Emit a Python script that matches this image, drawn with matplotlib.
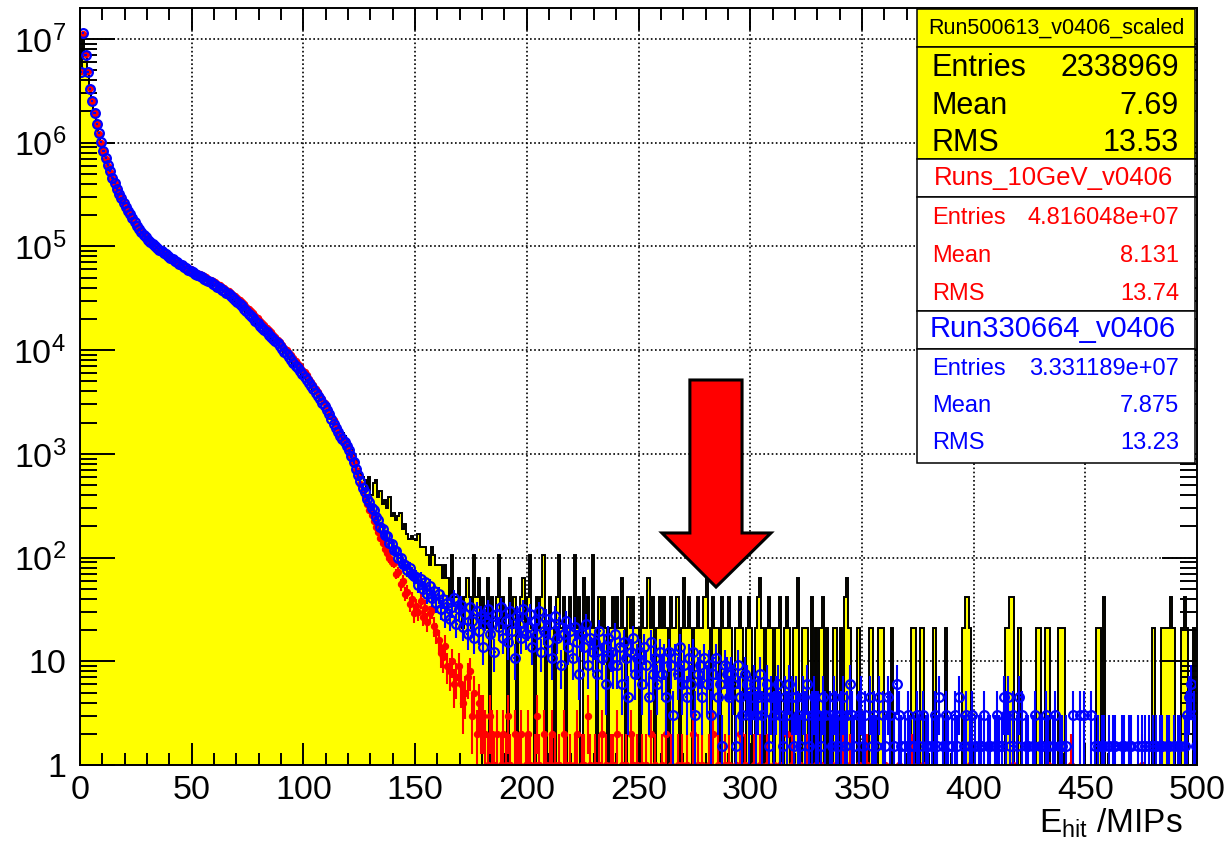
import numpy as np
import matplotlib
matplotlib.use("Agg")
import matplotlib.pyplot as plt
from matplotlib.patches import Rectangle, Polygon
from matplotlib.ticker import MultipleLocator, LogLocator, NullFormatter

plt.rcParams['font.family'] = ['Liberation Sans', 'DejaVu Sans']
plt.rcParams['mathtext.fontset'] = 'custom'
plt.rcParams['mathtext.rm'] = 'Liberation Sans'
plt.rcParams['mathtext.it'] = 'Liberation Sans:italic'
plt.rcParams['mathtext.bf'] = 'Liberation Sans:bold'

# ---------------- data ----------------
# 500 bins of 1 MIP from 0 to 500. Bins 0-149 given as values, 150-499 as counts x unit weight
BIN_EDGES = np.arange(0, 501, 1)

yellow_smooth = [
    4.6e6, 1.1e7, 6.8e6, 4.6e6, 3.2e6, 2.4e6, 1.88e6, 1.46e6, 1.19e6, 9.7e5,
    8.1e5, 6.8e5, 5.9e5, 5.1e5, 4.45e5, 3.95e5, 3.5e5, 3.1e5, 2.8e5, 2.55e5,
    2.33e5, 2.14e5, 1.97e5, 1.8e5, 1.65e5, 1.52e5, 1.41e5, 1.32e5, 1.24e5, 1.17e5,
    1.12e5, 1.06e5, 1.01e5, 9.7e4, 9.3e4, 9.0e4, 8.7e4, 8.4e4, 8.1e4, 7.8e4,
    7.55e4, 7.3e4, 7.05e4, 6.8e4, 6.6e4, 6.4e4, 6.2e4, 6.0e4, 5.8e4, 5.65e4,
    5.5e4, 5.35e4, 5.2e4, 5.05e4, 4.92e4, 4.8e4, 4.66e4, 4.52e4, 4.4e4, 4.27e4,
    4.14e4, 4.02e4, 3.89e4, 3.76e4, 3.63e4, 3.5e4, 3.37e4, 3.24e4, 3.11e4, 2.98e4,
    2.85e4, 2.72e4, 2.6e4, 2.47e4, 2.35e4, 2.23e4, 2.12e4, 2.01e4, 1.9e4, 1.8e4,
    1.71e4, 1.62e4, 1.54e4, 1.46e4, 1.39e4, 1.32e4, 1.26e4, 1.2e4, 1.13e4, 1.07e4,
    1.0e4, 9.4e3, 8.9e3, 8.4e3, 7.9e3, 7.5e3, 7.0e3, 6.6e3, 6.2e3, 5.8e3,
    5.5e3, 5.1e3, 4.8e3, 4.5e3, 4.2e3, 3.95e3, 3.7e3, 3.4e3, 3.2e3, 3.0e3,
    2.8e3, 2.6e3, 2.4e3, 2.2e3, 2.05e3, 1.9e3, 1.75e3, 1.6e3, 1.5e3, 1.35e3,
    1250, 1100, 1000, 880, 710, 650, 600, 560, 460, 600,
    400, 520, 560, 380, 440, 330, 360, 300, 380, 250,
    270, 230, 250, 270, 190, 210, 170, 150, 160, 150,
]
YELLOW_UNIT = 21.0
yellow_tail_counts = [
    7, 8, 6, 6, 6, 5, 4, 6, 5, 4,
    4, 4, 3, 4, 3, 2, 5, 2, 2, 3,
    2, 1, 2, 3, 2, 1, 5, 2, 3, 1,
    2, 1, 3, 0, 2, 1, 2, 5, 1, 2,
    1, 0, 3, 1, 2, 0, 1, 2, 3, 1,
    2, 5, 1, 0, 2, 1, 2, 5, 0, 1,
    2, 1, 0, 2, 5, 1, 2, 0, 1, 2,
    1, 5, 1, 2, 0, 3, 1, 2, 1, 5,
    1, 0, 2, 1, 2, 1, 0, 1, 2, 1,
    2, 1, 3, 1, 0, 2, 1, 2, 1, 1,
    0, 2, 1, 1, 3, 1, 2, 0, 1, 2,
    1, 2, 1, 0, 2, 1, 1, 2, 0, 1,
    3, 1, 2, 1, 0, 1, 2, 1, 1, 2,
    3, 1, 0, 2, 1, 1, 0, 2, 1, 1,
    2, 1, 0, 1, 1, 2, 1, 0, 1, 2,
    1, 0, 1, 2, 3, 1, 0, 1, 2, 1,
    0, 1, 1, 2, 0, 1, 2, 1, 0, 1,
    1, 3, 0, 1, 1, 1, 0, 2, 0, 1,
    0, 1, 2, 0, 1, 0, 0, 1, 1, 0,
    1, 0, 2, 3, 1, 0, 0, 0, 1, 0,
    0, 0, 0, 1, 1, 0, 0, 1, 1, 1,
    0, 0, 0, 1, 0, 0, 0, 0, 0, 0,
    0, 0, 1, 1, 0, 0, 1, 1, 0, 0,
    0, 0, 1, 0, 0, 0, 0, 1, 0, 0,
    0, 0, 0, 0, 0, 1, 2, 2, 1, 0,
    0, 0, 0, 0, 0, 0, 0, 0, 0, 0,
    0, 0, 0, 0, 1, 1, 2, 2, 0, 0,
    1, 0, 0, 0, 0, 0, 0, 0, 1, 1,
    0, 0, 1, 1, 0, 0, 0, 0, 1, 1,
    1, 0, 0, 0, 0, 0, 0, 0, 0, 0,
    0, 0, 0, 0, 0, 1, 1, 0, 2, 0,
    0, 0, 0, 0, 0, 0, 0, 0, 0, 0,
    0, 0, 0, 0, 0, 0, 0, 0, 0, 0,
    1, 0, 0, 0, 1, 1, 1, 1, 2, 1,
    0, 0, 0, 1, 2, 1, 0, 0, 1, 0,
]

red_smooth = [
    4.9e6, 1.12e7, 7.1e6, 4.9e6, 3.35e6, 2.5e6, 1.93e6, 1.5e6, 1.22e6, 1.0e6,
    8.3e5, 7.0e5, 6.0e5, 5.25e5, 4.6e5, 4.05e5, 3.6e5, 3.2e5, 2.9e5, 2.63e5,
    2.4e5, 2.2e5, 2.03e5, 1.86e5, 1.7e5, 1.57e5, 1.46e5, 1.37e5, 1.29e5, 1.22e5,
    1.16e5, 1.11e5, 1.06e5, 1.01e5, 9.7e4, 9.4e4, 9.1e4, 8.8e4, 8.5e4, 8.2e4,
    7.95e4, 7.65e4, 7.4e4, 7.15e4, 6.95e4, 6.75e4, 6.55e4, 6.35e4, 6.15e4, 6.0e4,
    5.85e4, 5.7e4, 5.55e4, 5.42e4, 5.28e4, 5.15e4, 5.02e4, 4.88e4, 4.75e4, 4.62e4,
    4.5e4, 4.36e4, 4.23e4, 4.1e4, 3.96e4, 3.83e4, 3.7e4, 3.56e4, 3.43e4, 3.3e4,
    3.16e4, 3.03e4, 2.9e4, 2.76e4, 2.63e4, 2.5e4, 2.38e4, 2.26e4, 2.14e4, 2.03e4,
    1.93e4, 1.83e4, 1.73e4, 1.64e4, 1.56e4, 1.48e4, 1.4e4, 1.33e4, 1.26e4, 1.19e4,
    1.12e4, 1.06e4, 1.0e4, 9.4e3, 8.9e3, 8.4e3, 7.9e3, 7.4e3, 7.0e3, 6.5e3,
    6.1e3, 5.7e3, 5.3e3, 4.95e3, 4.6e3, 4.25e3, 3.95e3, 3.65e3, 3.35e3, 3.08e3,
    2.82e3, 2.57e3, 2.33e3, 2.1e3, 1.9e3, 1.72e3, 1.56e3, 1.42e3, 1.29e3, 1.17e3,
    1050, 930, 810, 700, 600, 515, 440, 380, 330, 290,
    255, 225, 198, 175, 155, 138, 122, 110, 98, 90,
    88, 70, 72, 55, 60, 45, 47, 36, 40, 29,
]
RED_UNIT = 1.0
red_tail_counts = [
    34, 30, 38, 27, 33, 24, 29, 31, 22, 19,
    16, 12, 11, 14, 9, 8, 10, 6, 7, 9,
    6, 4, 5, 7, 8, 3, 5, 2, 4, 3,
    3, 2, 1, 3, 2, 1, 2, 0, 1, 2,
    1, 3, 1, 0, 2, 1, 1, 2, 0, 1,
    2, 1, 0, 1, 3, 1, 0, 2, 1, 0,
    1, 2, 1, 0, 1, 0, 2, 1, 0, 1,
    0, 1, 2, 0, 1, 1, 0, 3, 1, 0,
    1, 0, 1, 2, 0, 1, 0, 1, 1, 0,
    2, 0, 1, 0, 1, 0, 2, 1, 0, 1,
    0, 1, 0, 1, 0, 2, 0, 1, 0, 0,
    1, 0, 2, 0, 1, 0, 0, 1, 0, 1,
    0, 1, 0, 0, 2, 0, 1, 0, 1, 0,
    0, 1, 0, 2, 0, 1, 0, 0, 1, 0,
    1, 0, 0, 1, 0, 2, 0, 1, 0, 0,
    0, 1, 0, 0, 1, 0, 0, 1, 0, 0,
    1, 0, 0, 1, 0, 0, 2, 0, 1, 0,
    0, 0, 1, 0, 0, 1, 0, 0, 0, 1,
    0, 1, 0, 0, 0, 0, 1, 0, 0, 0,
    0, 2, 0, 0, 1, 0, 0, 0, 1, 0,
    0, 0, 1, 0, 0, 1, 0, 0, 0, 0,
    1, 0, 0, 0, 0, 0, 1, 0, 0, 0,
    0, 0, 1, 0, 0, 0, 0, 1, 0, 0,
    0, 0, 0, 0, 0, 0, 0, 0, 0, 0,
    0, 0, 0, 0, 0, 0, 0, 0, 1, 0,
    0, 0, 0, 0, 0, 0, 0, 0, 0, 0,
    0, 0, 0, 0, 0, 0, 0, 1, 0, 0,
    0, 0, 0, 0, 0, 0, 0, 0, 0, 0,
    0, 0, 0, 1, 0, 0, 0, 0, 0, 0,
    0, 0, 0, 1, 0, 0, 0, 0, 0, 0,
    0, 0, 0, 0, 0, 0, 0, 0, 0, 0,
    0, 0, 0, 0, 0, 0, 0, 0, 0, 0,
    0, 0, 0, 0, 0, 1, 0, 0, 0, 0,
    0, 0, 0, 0, 0, 0, 0, 0, 0, 0,
    0, 0, 0, 0, 0, 0, 0, 0, 0, 0,
]

blue_smooth = [
    4.8e6, 1.15e7, 7.0e6, 4.8e6, 3.3e6, 2.5e6, 1.95e6, 1.52e6, 1.24e6, 1.01e6,
    8.4e5, 7.1e5, 6.1e5, 5.3e5, 4.6e5, 4.1e5, 3.6e5, 3.2e5, 2.9e5, 2.65e5,
    2.42e5, 2.22e5, 2.05e5, 1.87e5, 1.71e5, 1.57e5, 1.46e5, 1.37e5, 1.29e5, 1.22e5,
    1.16e5, 1.10e5, 1.05e5, 1.0e5, 9.6e4, 9.3e4, 9.0e4, 8.7e4, 8.4e4, 8.1e4,
    7.8e4, 7.5e4, 7.25e4, 7.0e4, 6.8e4, 6.6e4, 6.35e4, 6.15e4, 5.95e4, 5.8e4,
    5.62e4, 5.48e4, 5.32e4, 5.18e4, 5.02e4, 4.9e4, 4.78e4, 4.62e4, 4.5e4, 4.38e4,
    4.24e4, 4.1e4, 3.98e4, 3.84e4, 3.7e4, 3.58e4, 3.44e4, 3.3e4, 3.18e4, 3.04e4,
    2.9e4, 2.78e4, 2.64e4, 2.5e4, 2.38e4, 2.25e4, 2.14e4, 2.02e4, 1.91e4, 1.81e4,
    1.72e4, 1.63e4, 1.55e4, 1.48e4, 1.41e4, 1.35e4, 1.29e4, 1.23e4, 1.16e4, 1.09e4,
    1.02e4, 9.6e3, 9.1e3, 8.6e3, 8.1e3, 7.6e3, 7.1e3, 6.7e3, 6.3e3, 5.9e3,
    5.5e3, 5.15e3, 4.8e3, 4.5e3, 4.2e3, 3.9e3, 3.6e3, 3.35e3, 3.1e3, 2.88e3,
    2.65e3, 2.42e3, 2.18e3, 1.95e3, 1.78e3, 1.62e3, 1.5e3, 1.4e3, 1.3e3, 1.2e3,
    1080, 950, 830, 720, 620, 545, 470, 430, 365, 345,
    300, 285, 248, 230, 198, 190, 165, 160, 138, 135,
    118, 115, 100, 99, 86, 85, 76, 80, 70, 66,
]
BLUE_UNIT = 1.52
blue_tail_counts = [
    43, 36, 41, 33, 38, 29, 35, 27, 31, 24,
    29, 21, 26, 18, 24, 17, 22, 27, 15, 21,
    23, 14, 19, 12, 22, 16, 11, 20, 13, 18,
    9, 17, 21, 12, 15, 8, 19, 14, 22, 11,
    16, 10, 20, 13, 7, 18, 15, 11, 21, 12,
    14, 19, 9, 16, 12, 20, 8, 13, 17, 10,
    15, 7, 18, 11, 14, 6, 12, 16, 9, 13,
    7, 14, 10, 5, 12, 9, 15, 6, 11, 8,
    10, 5, 13, 7, 9, 4, 11, 8, 6, 12,
    6, 9, 4, 10, 7, 3, 8, 11, 5, 7,
    8, 4, 9, 6, 3, 10, 5, 7, 4, 8,
    5, 7, 3, 8, 6, 2, 7, 5, 9, 4,
    6, 3, 7, 4, 8, 2, 5, 6, 3, 7,
    4, 6, 2, 5, 7, 3, 4, 1, 6, 5,
    3, 5, 4, 1, 6, 3, 2, 5, 4, 2,
    3, 4, 2, 3, 5, 2, 3, 4, 1, 3,
    2, 3, 4, 2, 1, 3, 2, 4, 3, 1,
    3, 2, 1, 3, 2, 4, 1, 2, 3, 2,
    2, 1, 3, 2, 0, 2, 1, 3, 2, 1,
    2, 3, 1, 2, 4, 2, 1, 0, 2, 3,
    1, 2, 0, 3, 1, 2, 1, 3, 0, 2,
    1, 3, 2, 0, 1, 4, 2, 1, 0, 1,
    2, 1, 0, 1, 2, 1, 0, 2, 1, 1,
    0, 1, 2, 1, 3, 0, 1, 2, 1, 0,
    1, 2, 1, 3, 0, 1, 2, 0, 1, 2,
    1, 0, 1, 1, 2, 0, 1, 1, 0, 1,
    2, 1, 1, 3, 2, 3, 1, 2, 0, 1,
    3, 2, 0, 1, 1, 0, 1, 2, 0, 1,
    1, 0, 2, 1, 0, 1, 2, 0, 1, 1,
    0, 1, 0, 0, 2, 0, 0, 2, 0, 2,
    0, 0, 2, 0, 1, 1, 0, 1, 1, 0,
    1, 0, 1, 1, 0, 0, 1, 1, 0, 1,
    1, 0, 0, 1, 0, 1, 1, 0, 1, 0,
    1, 1, 0, 1, 1, 0, 1, 1, 0, 1,
    0, 1, 1, 0, 1, 2, 3, 4, 2, 1,
]

x_ticks = [0, 50, 100, 150, 200, 250, 300, 350, 400, 450, 500]
y_ticks = [1, 10, 1e2, 1e3, 1e4, 1e5, 1e6, 1e7]
y_tick_labels = ['1', '10', r'$\mathregular{10^{2}}$', r'$\mathregular{10^{3}}$',
                 r'$\mathregular{10^{4}}$', r'$\mathregular{10^{5}}$',
                 r'$\mathregular{10^{6}}$', r'$\mathregular{10^{7}}$']
x_label = r'E$_{\mathregular{hit}}$ /MIPs'

stats_yellow = ("Run500613_v0406_scaled", [("Entries", "2338969"), ("Mean", "7.69"), ("RMS", "13.53")])
stats_red = ("Runs_10GeV_v0406", [("Entries", "4.816048e+07"), ("Mean", "8.131"), ("RMS", "13.74")])
stats_blue = ("Run330664_v0406", [("Entries", "3.331189e+07"), ("Mean", "7.875"), ("RMS", "13.23")])

# ---------------- assemble ----------------
def build(smooth, tail_counts, unit):
    n_tail = len(BIN_EDGES) - 1 - len(smooth)
    tail = list(tail_counts[:n_tail]) + [0] * max(0, n_tail - len(tail_counts))
    v = np.array(list(smooth) + [c * unit for c in tail], dtype=float)
    return v

yellow = build(yellow_smooth, yellow_tail_counts, YELLOW_UNIT)
red = build(red_smooth, red_tail_counts, RED_UNIT)
blue = build(blue_smooth, blue_tail_counts, BLUE_UNIT)
centers = 0.5 * (BIN_EDGES[:-1] + BIN_EDGES[1:])

W, H = 1228, 846
fig = plt.figure(figsize=(W / 100, H / 100), dpi=100)
ax = fig.add_axes([80 / W, (H - 765) / H, 1117 / W, 757 / H])
ax.set_yscale('log')
ax.set_xlim(0, 500)
ax.set_ylim(1, 1.99e7)

# grid (below data)
for xv in x_ticks[1:-1]:
    ax.axvline(xv, color='black', lw=1.2, ls=(0, (1, 1.5)), zorder=0.5)
for yv in y_ticks[1:]:
    ax.axhline(yv, color='black', lw=1.2, ls=(0, (1, 1.5)), zorder=0.5)

FLOOR = 1e-3
yel_plot = np.where(yellow > 0, yellow, FLOOR)
ax.stairs(yel_plot, BIN_EDGES, baseline=FLOOR, fill=True, color='#ffff00', lw=0, zorder=1)
ax.stairs(yel_plot, BIN_EDGES, baseline=FLOOR, fill=False, color='black', lw=1.4, zorder=1.1)

def draw_points(vals, unit, color, face, ms, mew, elw, z):
    m = vals > 0
    x = centers[m]
    y = vals[m]
    err = np.sqrt(y * unit)
    lo = np.minimum(err, y - FLOOR)
    ax.errorbar(x, y, yerr=[lo, err], xerr=0.5, fmt='o', ms=ms, mfc=face, mec=color,
                mew=mew, ecolor=color, elinewidth=elw, capsize=0, zorder=z)

draw_points(red, RED_UNIT, '#ff0000', '#ff0000', 4.5, 0.8, 1.5, 2)
draw_points(blue, BLUE_UNIT, '#0000ff', 'none', 6.3, 1.6, 1.5, 3)

# axes styling
for s in ax.spines.values():
    s.set_linewidth(1.4)
    s.set_zorder(4)
ax.set_xticks(x_ticks)
ax.set_xticklabels([str(v) for v in x_ticks])
ax.xaxis.set_minor_locator(MultipleLocator(10))
ax.set_yticks(y_ticks)
ax.set_yticklabels(y_tick_labels)
ax.yaxis.set_minor_locator(LogLocator(base=10, subs=np.arange(2, 10)))
ax.yaxis.set_minor_formatter(NullFormatter())
ax.tick_params(axis='x', which='major', direction='in', length=16, width=1.4, top=True,
               labelsize=24.5, pad=7)
ax.tick_params(axis='x', which='minor', direction='in', length=8.5, width=1.4, top=True)
ax.tick_params(axis='y', which='major', direction='in', length=25, width=1.4, right=True,
               labelsize=24.5, pad=10)
ax.tick_params(axis='y', which='minor', direction='in', length=12, width=1.4, right=True)

fig.text(1183 / W, (H - 833) / H, x_label, ha='right', va='baseline', fontsize=24)

# arrow annotation (axes fraction)
arrow_pts = [(0.546, 0.5086), (0.5927, 0.5086), (0.5927, 0.3065), (0.6186, 0.3065),
             (0.5694, 0.2351), (0.5210, 0.3065), (0.546, 0.3065)]
ax.add_patch(Polygon(arrow_pts, closed=True, transform=ax.transAxes, facecolor='#ff0000',
                     edgecolor='black', lw=2.2, joinstyle='miter', zorder=6, clip_on=False))

# stats boxes (figure pixel coordinates)
def fbox(x0, y0, x1, y1, fc):
    fig.patches.append(Rectangle((x0 / W, 1 - y1 / H), (x1 - x0) / W, (y1 - y0) / H,
                                 transform=fig.transFigure, facecolor=fc, edgecolor='black',
                                 lw=1.1, zorder=5))

def ftext(x, y, s, color, size, ha):
    fig.text(x / W, 1 - y / H, s, color=color, fontsize=size, ha=ha, va='center', zorder=6)

BX0, BX1 = 917, 1195
LX, RX = 932, 1179
fbox(BX0, 9, BX1, 47, '#ffff00')
fbox(BX0, 47, BX1, 159, '#ffff00')
fbox(BX0, 159, BX1, 197, 'white')
fbox(BX0, 197, BX1, 311, 'white')
fbox(BX0, 311, BX1, 349, 'white')
fbox(BX0, 349, BX1, 463, 'white')

ftext((BX0 + BX1) / 2, 28, stats_yellow[0], 'black', 15.5, 'center')
for (k, v), yy in zip(stats_yellow[1], [68, 106, 143]):
    ftext(LX, yy, k, 'black', 22, 'left')
    ftext(RX, yy, v, 'black', 22, 'right')
ftext((BX0 + BX1) / 2 - 3, 178, stats_red[0], '#ff0000', 18.5, 'center')
for (k, v), yy in zip(stats_red[1], [218, 256, 294]):
    ftext(LX, yy, k, '#ff0000', 17, 'left')
    ftext(RX, yy, v, '#ff0000', 17, 'right')
ftext((BX0 + BX1) / 2 - 3, 329, stats_blue[0], '#0000ff', 21, 'center')
for (k, v), yy in zip(stats_blue[1], [369, 406, 443]):
    ftext(LX, yy, k, '#0000ff', 17, 'left')
    ftext(RX, yy, v, '#0000ff', 17, 'right')

fig.savefig('out.png', dpi=100, facecolor='white')
